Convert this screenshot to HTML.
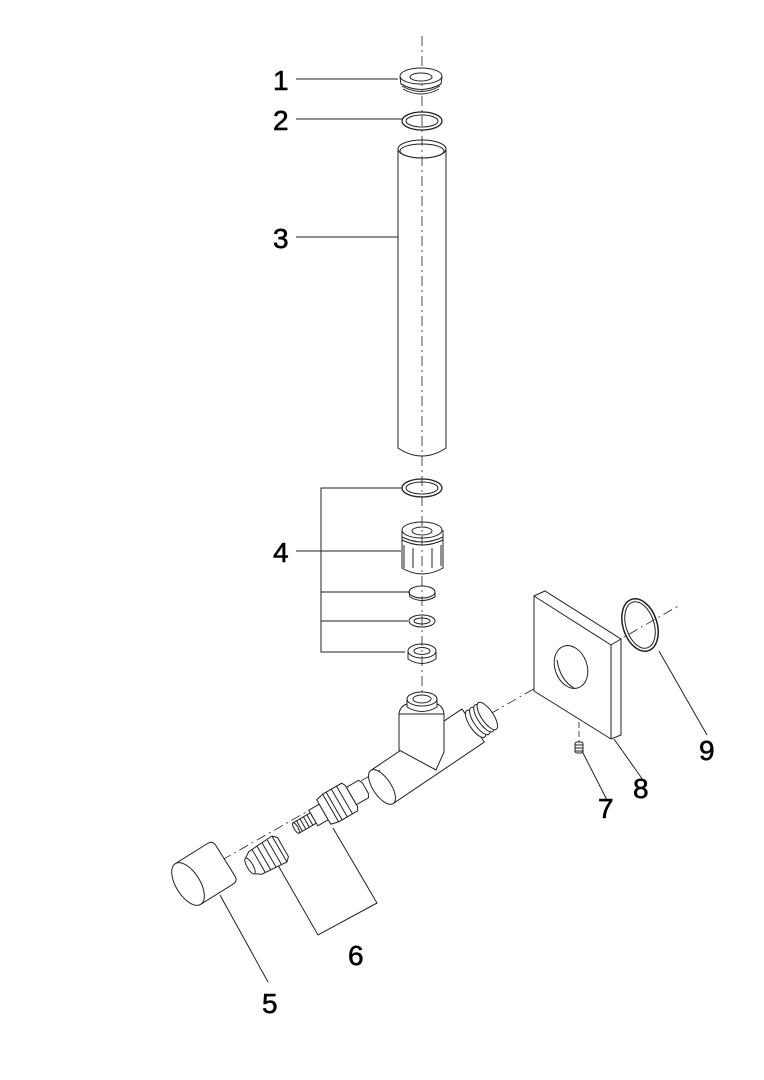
<!DOCTYPE html>
<html><head><meta charset="utf-8"><style>
html,body{margin:0;padding:0;background:#fff}
svg{display:block}
text{font-family:"Liberation Sans",sans-serif;font-size:28px;fill:#000;stroke:#000;stroke-width:0.6}
</style></head><body>
<svg width="764" height="1080" viewBox="0 0 764 1080" xmlns="http://www.w3.org/2000/svg">
<g fill="none" stroke="#222" stroke-width="1">
<!-- axes -->
<line x1="422" y1="36" x2="422" y2="700" stroke-dasharray="10,4,2,4" stroke-width="0.8"/>
<line x1="222" y1="860" x2="380" y2="770" stroke-dasharray="10,4,2,4" stroke-width="0.8"/>
<line x1="490" y1="714" x2="680" y2="605" stroke-dasharray="10,4,2,4" stroke-width="0.8"/>
<line x1="579" y1="722" x2="579" y2="742" stroke-dasharray="6,3" stroke-width="0.8"/>
<!-- leaders -->
<line x1="296" y1="79" x2="398" y2="79"/>
<line x1="296" y1="119" x2="402" y2="119"/>
<line x1="296" y1="237" x2="398" y2="237"/>
<line x1="296" y1="551" x2="401" y2="551"/>
<polyline points="402,488 321,488 321,652 405,652"/>
<line x1="321" y1="592" x2="410" y2="592"/>
<line x1="321" y1="621" x2="408" y2="621"/>
<polyline points="275,860 318,935 377,903 333,828"/>
<line x1="220" y1="895" x2="268" y2="982"/>
<line x1="582" y1="751" x2="607" y2="800"/>
<line x1="614" y1="739" x2="643" y2="780"/>
<line x1="659" y1="651" x2="707" y2="735"/>
<!-- part 1 -->
<ellipse cx="421" cy="76" rx="21" ry="8" fill="#fff"/>
<ellipse cx="421" cy="77" rx="11" ry="4"/>
<path d="M400,77 L401,84 Q421,95 441,84 L442,77"/>
<path d="M402,86 Q421,97 440,86 M403,89 Q421,99 439,89"/>
<!-- part 2 -->
<ellipse cx="422" cy="121" rx="20" ry="9" stroke-width="1.3"/>
<ellipse cx="422" cy="121" rx="16" ry="6"/>
<!-- part 3 tube -->
<ellipse cx="422" cy="149" rx="24" ry="9"/>
<ellipse cx="422" cy="151" rx="22" ry="7"/>
<path d="M398,149 L398,448 Q422,464 446,448 L446,149"/>
<!-- part 4 -->
<ellipse cx="422" cy="488" rx="20" ry="9" stroke-width="1.3"/>
<ellipse cx="422" cy="488" rx="16" ry="6"/>
<ellipse cx="422" cy="530" rx="20" ry="8"/>
<ellipse cx="422" cy="531" rx="10" ry="4"/>
<path d="M402,530 L402,568 Q422,580 443,568 L443,530"/>
<path d="M402,537 Q422,547 443,537 M402,540 Q422,550 443,540"/>
<path d="M404,545 L404,568 M413,548 L413,568 M432,548 L432,568 M441,545 L441,566"/>
<ellipse cx="422" cy="592" rx="13" ry="6"/>
<path d="M409,592 L410,597 Q422,604 435,597 L435,592"/>
<ellipse cx="422" cy="621" rx="13" ry="6"/>
<ellipse cx="422" cy="621" rx="8" ry="3"/>
<ellipse cx="422" cy="651" rx="14" ry="7"/>
<ellipse cx="422" cy="651" rx="8" ry="3.5"/>
<path d="M408,651 L408,659 Q422,668 436,659 L436,651"/>
<!-- tee main pipe -->
<g transform="translate(382,787) rotate(-34)">
<path d="M0,-20 L110,-20 M0,20 L110,20" />
<path d="M110,-20 L110,20"/>
<ellipse cx="0" cy="0" rx="9" ry="20" fill="#fff"/>
<ellipse cx="113" cy="0" rx="6" ry="16" fill="#fff"/>
<ellipse cx="118" cy="0" rx="6" ry="16" fill="#fff"/>
<ellipse cx="123" cy="0" rx="6" ry="16" fill="#fff"/>
<ellipse cx="127" cy="0" rx="6" ry="16" fill="#fff"/>
</g>
<!-- stub -->
<path d="M399,714 L399,750 L436,770 L444,752 L444,714 Z" fill="#fff"/>
<ellipse cx="422" cy="699" rx="15" ry="7" fill="#fff"/>
<ellipse cx="422" cy="699" rx="9" ry="4"/>
<path d="M407,699 L407,707 Q422,716 437,707 L437,699"/>
<path d="M399,714 Q400,706 407,704 M444,714 Q443,706 437,704"/>
<!-- plate 8 -->
<path d="M534,596 L545,591 L621,639 L621,735 L611,739 L534,691 Z" fill="#fff"/>
<path d="M534,596 L611,645 L611,739 M611,645 L621,639"/>
<ellipse cx="571" cy="667" rx="16" ry="22" transform="rotate(-20 571 667)"/>
<path d="M557,660 Q560,680 574,688"/>
<!-- ring 9 -->
<ellipse cx="640" cy="625" rx="17" ry="27" transform="rotate(-18 640 625)" stroke-width="1.5"/>
<ellipse cx="640" cy="625" rx="14" ry="24" transform="rotate(-18 640 625)"/>
<!-- set screw 7 -->
<rect x="575" y="742" width="8" height="11" rx="2"/>
<path d="M575,745 L583,745 M575,748 L583,748 M575,751 L583,751"/>
<!-- cartridge -->
<g transform="translate(296,828) rotate(-30)" fill="#fff">
<path d="M0,-6 L20,-6 L20,6 L0,6 Z"/>
<path d="M4,-6 L4,6 M8,-6 L8,6 M12,-6 L12,6 M16,-6 L16,6"/>
<path d="M20,-9 L32,-9 L32,9 L20,9 Z"/>
<path d="M32,-14 L40,-16 L62,-16 L64,-12 L64,12 L62,16 L40,16 L32,14 Z"/>
<path d="M40,-16 L40,16 M44,-16 L44,16 M50,-16 L50,16 M56,-16 L56,16"/>
<path d="M64,-10 L78,-10 L80,-6 L80,6 L78,10 L64,10 Z"/>
<ellipse cx="0" cy="0" rx="2" ry="6"/>
</g>
<!-- spline nut -->
<g transform="translate(250,866) rotate(-30)" fill="#fff">
<path d="M0,-9 L6,-13 L34,-15 L38,-11 L38,11 L34,15 L6,13 L0,9 Z"/>
<path d="M10,-13 L10,13 M16,-14 L16,14 M22,-14 L22,14 M28,-14 L28,14 M34,-15 L34,15"/>
<ellipse cx="0" cy="0" rx="3" ry="9"/>
</g>
<!-- knob 5 -->
<g transform="translate(188,884) rotate(-32)" fill="#fff">
<path d="M0,-24 L38,-24 Q44,-24 44,-18 L44,18 Q44,24 38,24 L0,24"/>
<ellipse cx="0" cy="0" rx="12" ry="24"/>
</g>
</g>
<text x="273" y="90">1</text>
<text x="273" y="130">2</text>
<text x="273" y="248">3</text>
<text x="273" y="562">4</text>
<text x="262" y="1013">5</text>
<text x="348" y="965">6</text>
<text x="598" y="818">7</text>
<text x="633" y="798">8</text>
<text x="699" y="760">9</text>
</svg>
</body></html>
